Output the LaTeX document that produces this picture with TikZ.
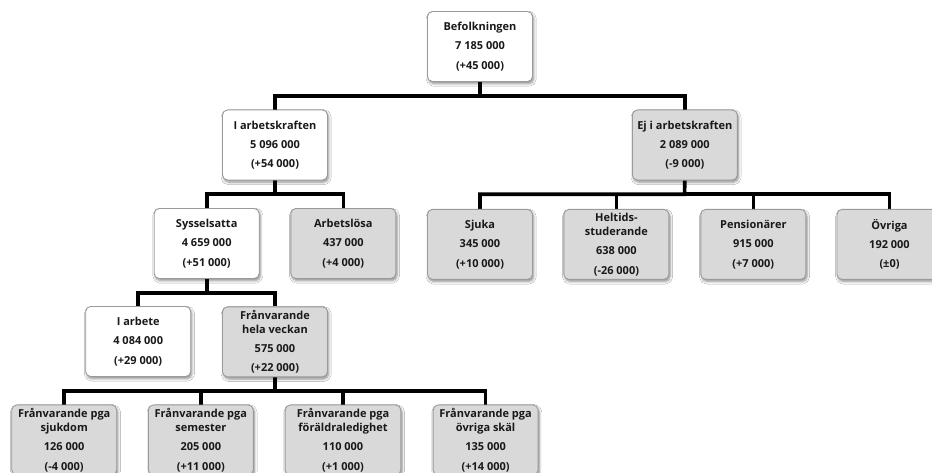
\documentclass[tikz,border=0pt]{standalone}
\usepackage{fontspec}
\newfontfamily\osans{Open Sans}
\usetikzlibrary{shadows.blur}
\pgfdeclarelayer{bg}
\pgfsetlayers{bg,main}
\definecolor{boxgray}{HTML}{D9D9D9}
\definecolor{boxborder}{HTML}{9A9A9A}
\tikzset{
  box/.style={draw=boxborder, line width=0.9pt, rounded corners=5pt,
    minimum width=105pt, minimum height=70pt, inner sep=0pt, align=center,
    font=\osans\bfseries\fontsize{11}{14}\selectfont, text=black!90,
    blur shadow={shadow xshift=1.2pt, shadow yshift=-2.2pt, shadow blur steps=6,
      shadow blur radius=2.5pt, shadow opacity=45}},
  wbox/.style={box, fill=white},
  gbox/.style={box, fill=boxgray},
  conn/.style={line width=3.6pt, draw=black, line join=miter},
}
\newcommand{\gp}{\\[5.3pt]}
\begin{document}
\begin{tikzpicture}[x=1pt,y=-1pt]
\clip (0,0) rectangle (932,472);
% level 0
\node[wbox] (befolk) at (480,46.5) {Befolkningen\gp 7 185 000\gp (+45 000)};
% level 1
\node[wbox] (iak) at (275,145) {I arbetskraften\gp 5 096 000\gp (+54 000)};
\node[gbox] (ej) at (684.8,145) {Ej i arbetskraften\gp 2 089 000\gp (-9 000)};
% level 2
\node[wbox] (syss) at (206.7,243.5) {Sysselsatta\gp 4 659 000\gp (+51 000)};
\node[gbox] (arbl) at (343.3,243.5) {Arbetslösa\gp 437 000\gp (+4 000)};
\node[gbox] (sjuka) at (480,244.4) {Sjuka\gp 345 000\gp (+10 000)};
\node[gbox] (helt) at (616.4,244.4) {Heltids-\\studerande\gp 638 000\gp (-26 000)};
\node[gbox] (pens) at (753.3,244.4) {Pensionärer\gp 915 000\gp (+7 000)};
\node[gbox] (ovr) at (889.5,244.4) {Övriga\gp 192 000\gp (±0)};
% level 3
\node[wbox] (iarb) at (138.2,341.5) {I arbete\gp 4 084 000\gp (+29 000)};
\node[gbox] (franv) at (275,341.8) {Frånvarande\\hela veckan\gp 575 000\gp (+22 000)};
% level 4
\node[gbox] (f1) at (64.2,440) {Frånvarande pga\\sjukdom\gp 126 000\gp (-4 000)};
\node[gbox] (f2) at (200.8,440) {Frånvarande pga\\semester\gp 205 000\gp (+11 000)};
\node[gbox, minimum width=115.7pt] (f3) at (343,440) {Frånvarande pga\\föräldraledighet\gp 110 000\gp (+1 000)};
\node[gbox] (f4) at (485.6,440) {Frånvarande pga\\övriga skäl\gp 135 000\gp (+14 000)};
% bus junctions
\coordinate (b0) at (480,96);
\coordinate (b1) at (275,194.2);
\coordinate (b2) at (684.6,194.2);
\coordinate (b3) at (206.7,293);
\coordinate (b4) at (275,391);
\begin{pgfonlayer}{bg}
\fill[white] (0,0) rectangle (932,472);
\draw[conn] (befolk.south) -- (b0) -| (iak.north);
\draw[conn] (b0) -| (ej.north);
\draw[conn] (iak.south) -- (b1) -| (syss.north);
\draw[conn] (b1) -| (arbl.north);
\draw[conn] (ej.south) -- (b2) -| (sjuka.north);
\draw[conn] (b2) -| (ovr.north);
\draw[conn] (b2 -| helt.north) -- (helt.north);
\draw[conn] (b2 -| pens.north) -- (pens.north);
\draw[conn] (syss.south) -- (b3) -| (iarb.north);
\draw[conn] (b3) -| (franv.north);
\draw[conn] (franv.south) -- (b4) -| (f1.north);
\draw[conn] (b4) -| (f4.north);
\draw[conn] (b4 -| f2.north) -- (f2.north);
\draw[conn] (b4 -| f3.north) -- (f3.north);
\end{pgfonlayer}
\end{tikzpicture}
\end{document}
